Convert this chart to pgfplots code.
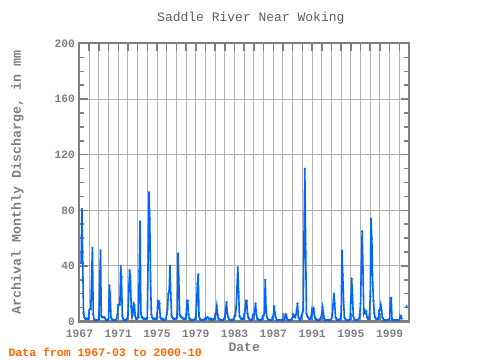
\documentclass[border=0pt]{standalone}
\usepackage{pgfplots}
\pgfplotsset{compat=1.18}
\usepackage{fontspec}
\setmainfont{Liberation Mono}
\definecolor{axgray}{HTML}{7F7F7F}
\definecolor{gridgray}{HTML}{B4B4B4}
\definecolor{lineblue}{HTML}{0066FF}
\definecolor{noteorange}{HTML}{FF6600}
\definecolor{titlegray}{HTML}{5F5F5F}
\begin{document}
\begin{tikzpicture}
\useasboundingbox (-79.5bp,-38.5bp) rectangle (400.5bp,321.5bp);
\begin{axis}[
  at={(0,0)}, anchor=south west,
  scale only axis, width=329.5bp, height=278bp,
  xmin=1967, xmax=2001, ymin=0, ymax=200,
  xtick={1967,...,2001},
  xticklabels={1967,,,,1971,,,,1975,,,,1979,,,,1983,,,,1987,,,,1991,,,,1995,,,,1999,,},
  ytick={0,40,...,200},
  minor ytick={0,10,...,200},
  xmajorgrids, ymajorgrids,
  grid style={gridgray, line width=1bp},
  axis line style={axgray, line width=2bp},
  tick style={axgray, line width=1.5bp},
  major tick length=8bp, minor tick length=5bp,
  tick align=inside, tick pos=both,
  ticklabel style={font=\bfseries\fontsize{11.3bp}{13bp}\selectfont, text=axgray},
  xticklabel style={yshift=-5bp},
  yticklabel style={xshift=-1bp, /pgf/number format/assume math mode=true},
  every axis y label/.style={at={(axis description cs:-0.188,0.5)}, rotate=90, anchor=center, font=\bfseries\fontsize{13.3bp}{15bp}\selectfont, text=axgray},
  every axis x label/.style={at={(axis description cs:0.5,-0.092)}, anchor=center, font=\bfseries\fontsize{13bp}{15bp}\selectfont, text=axgray},
  ylabel={Archival Monthly Discharge, in mm},
  xlabel={Date},
  title={Saddle River Near Woking},
  every axis title/.style={at={(axis description cs:0.52,1.092)}, anchor=center, font=\fontsize{13bp}{15bp}\selectfont, text=titlegray},
  unbounded coords=jump,
  clip=false,
]
\addplot[lineblue, line width=1.6bp, mark=*, mark size=0.8bp, mark options={line width=0.5bp}]
  table[row sep=\\, x expr=\thisrow{yr}+(\thisrow{m}-1)/12, y=v] {
yr m v\\
1967 3 42\\ 1967 4 81\\ 1967 5 42\\ 1967 6 6\\ 1967 7 3\\ 1967 8 2\\ 1967 9 2\\ 1967 10 2\\ 1967 11 2\\ 1967 12 2\\
1968 1 8\\ 1968 2 9\\ 1968 3 9\\ 1968 4 32\\ 1968 5 53\\ 1968 6 5\\ 1968 7 2\\ 1968 8 1\\ 1968 9 1\\ 1968 10 1\\ 1968 11 1\\ 1968 12 1\\
1969 1 2\\ 1969 2 26\\ 1969 3 51\\ 1969 4 4\\ 1969 5 3\\ 1969 6 3\\ 1969 7 3\\ 1969 8 3\\ 1969 9 2\\ 1969 10 1\\ 1969 11 1\\ 1969 12 1\\
1970 1 2\\ 1970 2 26\\ 1970 3 19\\ 1970 4 3\\ 1970 5 2\\ 1970 6 1\\ 1970 7 1\\ 1970 8 1\\ 1970 9 1\\ 1970 10 1\\ 1970 11 2\\ 1970 12 5\\
1971 1 12\\ 1971 2 12\\ 1971 3 12\\ 1971 4 40\\ 1971 5 32\\ 1971 6 4\\ 1971 7 2\\ 1971 8 1\\ 1971 9 1\\ 1971 10 1\\ 1971 11 1\\ 1971 12 2\\
1972 1 5\\ 1972 2 22\\ 1972 3 37\\ 1972 4 32\\ 1972 5 11\\ 1972 6 3\\ 1972 7 5\\ 1972 8 13\\ 1972 9 12\\ 1972 10 4\\ 1972 11 2\\ 1972 12 2\\
1973 1 3\\ 1973 2 3\\ 1973 3 36\\ 1973 4 72\\ 1973 5 6\\ 1973 6 3\\ 1973 7 3\\ 1973 8 2\\ 1973 9 2\\ 1973 10 2\\ 1973 11 2\\ 1973 12 2\\
1974 1 3\\ 1974 2 47\\ 1974 3 93\\ 1974 4 74\\ 1974 5 29\\ 1974 6 5\\ 1974 7 3\\ 1974 8 2\\ 1974 9 2\\ 1974 10 2\\ 1974 11 2\\ 1974 12 2\\
1975 1 3\\ 1975 2 15\\ 1975 3 11\\ 1975 4 13\\ 1975 5 3\\ 1975 6 2\\ 1975 7 2\\ 1975 8 2\\ 1975 9 1\\ 1975 10 1\\ 1975 11 1\\ 1975 12 2\\
1976 1 5\\ 1976 2 9\\ 1976 3 20\\ 1976 4 22\\ 1976 5 40\\ 1976 6 20\\ 1976 7 4\\ 1976 8 3\\ 1976 9 2\\ 1976 10 2\\ 1976 11 2\\ 1976 12 2\\
1977 1 2\\ 1977 2 3\\ 1977 3 49\\ 1977 4 30\\ 1977 5 5\\ 1977 6 4\\ 1977 7 3\\ 1977 8 3\\ 1977 9 2\\ 1977 10 2\\ 1977 11 2\\ 1977 12 2\\
1978 1 3\\ 1978 2 15\\ 1978 3 15\\ 1978 4 5\\ 1978 5 2\\ 1978 6 2\\ 1978 7 1\\ 1978 8 1\\ 1978 9 1\\ 1978 10 1\\ 1978 11 1\\ 1978 12 2\\
1979 1 3\\ 1979 2 12\\ 1979 3 27\\ 1979 4 34\\ 1979 5 4\\ 1979 6 2\\ 1979 7 1\\ 1979 8 1\\ 1979 9 1\\ 1979 10 1\\ 1979 11 1\\ 1979 12 2\\
1980 1 2\\ 1980 2 2\\ 1980 3 3\\ 1980 4 3\\ 1980 5 2\\ 1980 6 2\\ 1980 7 2\\ 1980 8 2\\ 1980 9 1\\ 1980 10 1\\ 1980 11 2\\ 1980 12 2\\
1981 1 2\\ 1981 2 6\\ 1981 3 11\\ 1981 4 5\\ 1981 5 2\\ 1981 6 2\\ 1981 7 1\\ 1981 8 1\\ 1981 9 1\\ 1981 10 1\\ 1981 11 1\\ 1981 12 2\\
1982 1 3\\ 1982 2 8\\ 1982 3 14\\ 1982 4 6\\ 1982 5 3\\ 1982 6 2\\ 1982 7 1\\ 1982 8 1\\ 1982 9 1\\ 1982 10 1\\ 1982 11 1\\ 1982 12 2\\
1983 1 4\\ 1983 2 4\\ 1983 3 10\\ 1983 4 25\\ 1983 5 39\\ 1983 6 21\\ 1983 7 4\\ 1983 8 3\\ 1983 9 2\\ 1983 10 2\\ 1983 11 2\\ 1983 12 2\\
1984 1 2\\ 1984 2 8\\ 1984 3 15\\ 1984 4 15\\ 1984 5 6\\ 1984 6 3\\ 1984 7 2\\ 1984 8 1\\ 1984 9 1\\ 1984 10 1\\ 1984 11 2\\ 1984 12 5\\
1985 1 5\\ 1985 2 8\\ 1985 3 13\\ 1985 4 5\\ 1985 5 2\\ 1985 6 2\\ 1985 7 1\\ 1985 8 1\\ 1985 9 1\\ 1985 10 1\\ 1985 11 2\\ 1985 12 4\\
1986 1 4\\ 1986 2 6\\ 1986 3 30\\ 1986 4 9\\ 1986 5 3\\ 1986 6 2\\ 1986 7 1\\ 1986 8 1\\ 1986 9 1\\ 1986 10 1\\ 1986 11 1\\ 1986 12 3\\
1987 1 4\\ 1987 2 11\\ 1987 3 6\\ 1987 4 3\\ 1987 5 1\\ 1987 6 1\\ 1987 7 1\\ 1987 8 1\\ 1987 9 1\\ 1987 10 1\\ 1987 11 1\\ 1987 12 1\\
1988 1 1\\ 1988 2 1\\ 1988 3 2\\ 1988 4 5\\ 1988 5 5\\ 1988 6 2\\ 1988 7 1\\ 1988 8 1\\ 1988 9 1\\ 1988 10 1\\ 1988 11 1\\ 1988 12 2\\
1989 1 3\\ 1989 2 5\\ 1989 3 4\\ 1989 4 3\\ 1989 5 5\\ 1989 6 8\\ 1989 7 13\\ 1989 8 3\\ 1989 9 2\\ 1989 10 1\\ 1989 11 2\\ 1989 12 4\\
1990 1 6\\ 1990 2 8\\ 1990 3 63\\ 1990 4 110\\ 1990 5 56\\ 1990 6 6\\ 1990 7 4\\ 1990 8 3\\ 1990 9 2\\ 1990 10 2\\ 1990 11 2\\ 1990 12 4\\
1991 1 9\\ 1991 2 7\\ 1991 3 9\\ 1991 4 4\\ 1991 5 2\\ 1991 6 2\\ 1991 7 1\\ 1991 8 1\\ 1991 9 1\\ 1991 10 1\\ 1991 11 2\\ 1991 12 3\\
1992 1 5\\ 1992 2 10\\ 1992 3 6\\ 1992 4 2\\ 1992 5 1\\ 1992 6 1\\ 1992 7 1\\ 1992 8 1\\ 1992 9 1\\ 1992 10 1\\ 1992 11 1\\ 1992 12 1\\
1993 1 2\\ 1993 2 4\\ 1993 3 12\\ 1993 4 20\\ 1993 5 13\\ 1993 6 3\\ 1993 7 2\\ 1993 8 1\\ 1993 9 1\\ 1993 10 1\\ 1993 11 1\\ 1993 12 2\\
1994 1 4\\ 1994 2 51\\ 1994 3 33\\ 1994 4 14\\ 1994 5 3\\ 1994 6 2\\ 1994 7 1\\ 1994 8 1\\ 1994 9 1\\ 1994 10 1\\ 1994 11 1\\ 1994 12 2\\
1995 1 15\\ 1995 2 31\\ 1995 3 19\\ 1995 4 4\\ 1995 5 2\\ 1995 6 1\\ 1995 7 1\\ 1995 8 1\\ 1995 9 1\\ 1995 10 1\\ 1995 11 2\\ 1995 12 5\\
1996 1 13\\ 1996 2 39\\ 1996 3 65\\ 1996 4 39\\ 1996 5 6\\ 1996 6 8\\ 1996 7 6\\ 1996 8 7\\ 1996 9 3\\ 1996 10 2\\ 1996 11 2\\ 1996 12 4\\
1997 1 18\\ 1997 2 74\\ 1997 3 59\\ 1997 4 28\\ 1997 5 15\\ 1997 6 6\\ 1997 7 3\\ 1997 8 2\\ 1997 9 2\\ 1997 10 2\\ 1997 11 2\\ 1997 12 8\\
1998 1 8\\ 1998 2 12\\ 1998 3 8\\ 1998 4 3\\ 1998 5 2\\ 1998 6 1\\ 1998 7 1\\ 1998 8 1\\ 1998 9 1\\ 1998 10 1\\ 1998 11 1\\ 1998 12 1\\
1999 1 2\\ 1999 2 17\\ 1999 3 17\\ 1999 4 1\\ 1999 5 1\\ 1999 6 1\\ 1999 7 1\\ 1999 8 1\\ 1999 9 1\\ 1999 10 1\\ 1999 11 1\\ 1999 12 1\\
2000 1 1\\ 2000 2 3\\ 2000 3 4\\ 2000 4 2\\ 2000 5 nan\\ 2000 6 nan\\ 2000 7 nan\\ 2000 8 nan\\ 2000 9 nan\\ 2000 10 11\\
};
\node[anchor=west, text=noteorange, font=\bfseries\fontsize{11.5bp}{13bp}\selectfont] at (axis description cs:-0.226,-0.11) {Data from 1967-03 to 2000-10};
\end{axis}
\end{tikzpicture}
\end{document}
